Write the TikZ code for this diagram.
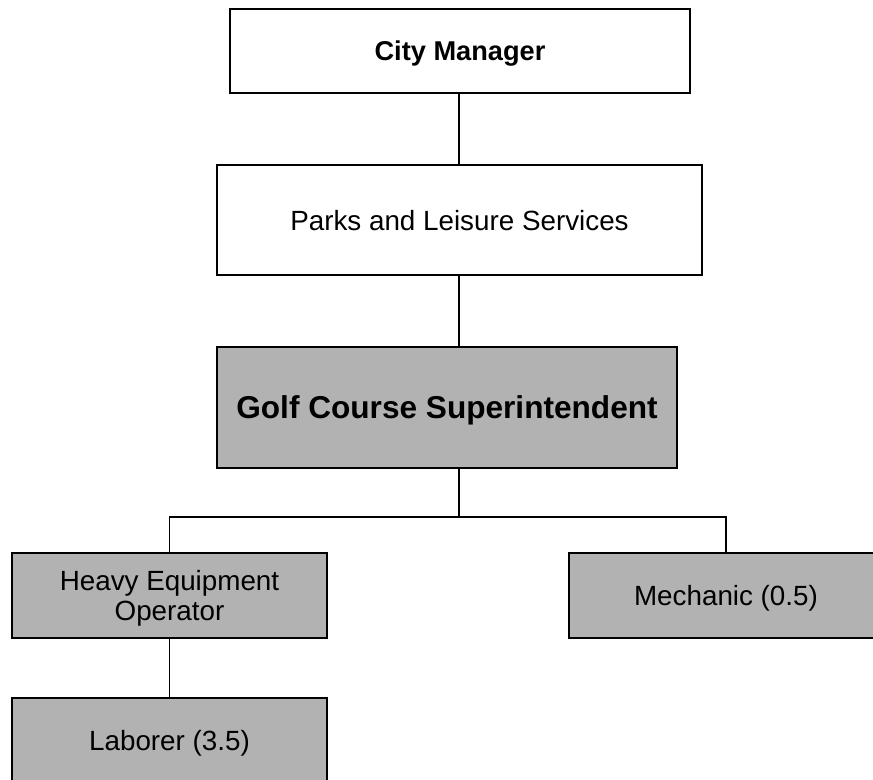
\documentclass[tikz,border=0pt]{standalone}
\usepackage{fontspec}
\setmainfont{Liberation Sans}
\begin{document}
\begin{tikzpicture}[x=0.5pt,y=-0.5pt,
  box/.style={draw=black,line width=1pt,rectangle,inner sep=0pt,outer sep=0pt,
    align=center,text=black,text depth=0pt},
  plain/.style={box,fill=white,font=\fontsize{13.9}{15.5}\selectfont},
  shaded/.style={box,fill=gray70,font=\fontsize{13.9}{15.2}\selectfont},
  link/.style={draw=black,line width=0.75pt}]
\definecolor{gray70}{RGB}{178,178,178}
\fill[white] (0,0) rectangle (873,780);
\useasboundingbox (0,0) rectangle (873,780);
\clip (0,0) rectangle (873,780);

% boxes
\node[plain,minimum width=230pt,minimum height=42pt,font=\fontsize{13.6}{15}\selectfont\bfseries]
  (cm) at (460,51) {City Manager};
\node[plain,minimum width=242.5pt,minimum height=55pt] (parks) at (459.5,220)
  {Parks and Leisure Services};
\node[shaded,minimum width=230pt,minimum height=60.5pt,font=\fontsize{15.8}{17}\selectfont\bfseries]
  (golf) at (447,407.5) {Golf Course Superintendent};
\node[shaded,minimum width=157.5pt,minimum height=42.5pt] (heavy) at (169.5,595.5)
  {Heavy Equipment\\Operator};
\node[shaded,minimum width=157pt,minimum height=42.5pt] (mech) at (726,595.5)
  {Mechanic (0.5)};
\node[shaded,minimum width=157.5pt,minimum height=42.5pt] (lab) at (169.5,740.5)
  {Laborer (3.5)};

% reporting lines
\coordinate (bus) at (459,517);
\draw[link] (cm.south -| bus) -- (parks.north -| bus);
\draw[link] (parks.south -| bus) -- (golf.north -| bus);
\draw[link] (golf.south -| bus) -- (bus);
\draw[link] (heavy.north) -- (heavy.north |- bus) -- (mech.north |- bus) -- (mech.north);
\draw[link] (heavy.south) -- (lab.north);
\end{tikzpicture}
\end{document}
